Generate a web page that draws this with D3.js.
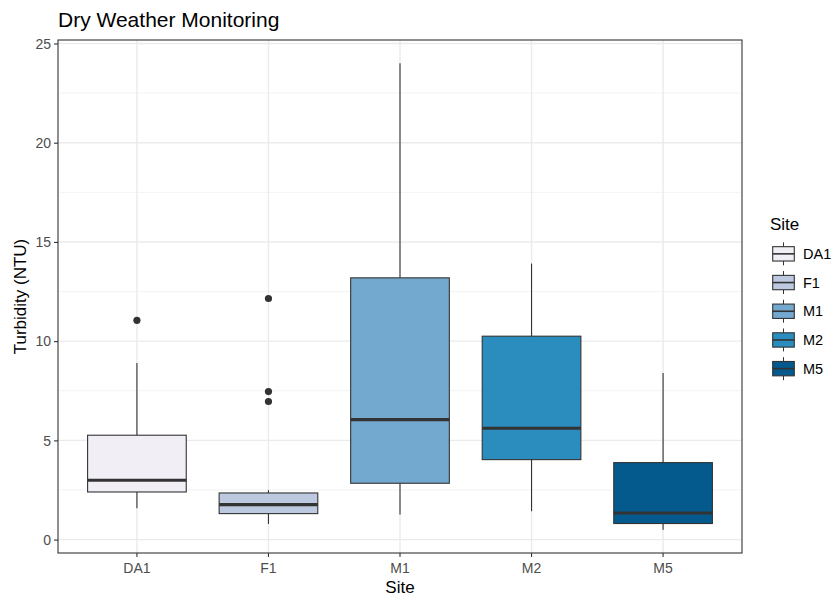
<!DOCTYPE html>
<html>
<head>
<meta charset="utf-8">
<script src="https://cdn.jsdelivr.net/npm/d3@7"></script>
<style>
  body { margin: 0; background: #fff; font-family: 'Liberation Sans', Arial, sans-serif; overflow: hidden; }
  svg { display: block; }
</style>
</head>
<body>
<div id="chart"></div>
<script>
const sites = ['DA1', 'F1', 'M1', 'M2', 'M5'];
const whiskerLow = [1.58, 0.79, 1.26, 1.43, 0.50];
const q1 = [2.40, 1.31, 2.84, 4.03, 0.81];
const medians = [2.99, 1.76, 6.05, 5.61, 1.34];
const q3 = [5.26, 2.35, 13.19, 10.25, 3.88];
const whiskerHigh = [8.90, 2.49, 24.0, 13.91, 8.40];
const outliers = [[11.05], [12.15, 7.46, 6.96], [], [], []];
const fills = ['#F1EEF6', '#BDC9E1', '#74A9CF', '#2B8CBE', '#045A8D'];
const yTicks = [0, 5, 10, 15, 20, 25];

const width = 836;
const height = 597;
const margin = { top: 40, right: 94, bottom: 44, left: 58 };

const svg = d3.select('#chart')
  .append('svg')
  .attr('width', width)
  .attr('height', height)
  .style('font-family', "'Liberation Sans', Arial, sans-serif");

const innerWidth = width - margin.left - margin.right;
const innerHeight = height - margin.top - margin.bottom;

const chart = svg.append('g')
  .attr('transform', `translate(${margin.left}, ${margin.top})`);

// ggplot style 5% expansion
const dataMin = d3.min(whiskerLow);
const dataMax = d3.max(whiskerHigh);
const pad = (dataMax - dataMin) * 0.05;

const y = d3.scaleLinear()
  .domain([dataMin - pad, dataMax + pad])
  .range([innerHeight, 0]);

const x = d3.scaleBand()
  .domain(sites)
  .range([0, innerWidth])
  .paddingOuter(0.1)
  .paddingInner(0);

const color = d3.scaleOrdinal().domain(sites).range(fills);

const cx = d => x(d) + x.bandwidth() / 2;
const boxW = x.bandwidth() * 0.75;

// grid
const minorTicks = d3.range(2.5, 25, 5);
chart.append('g')
  .selectAll('line')
  .data(minorTicks)
  .enter()
  .append('line')
  .attr('x1', 0).attr('x2', innerWidth)
  .attr('y1', d => y(d)).attr('y2', d => y(d))
  .attr('stroke', '#F2F2F2')
  .attr('stroke-width', 0.9);

chart.append('g')
  .selectAll('line')
  .data(yTicks)
  .enter()
  .append('line')
  .attr('x1', 0).attr('x2', innerWidth)
  .attr('y1', d => y(d)).attr('y2', d => y(d))
  .attr('stroke', '#EBEBEB')
  .attr('stroke-width', 1.4);

chart.append('g')
  .selectAll('line')
  .data(sites)
  .enter()
  .append('line')
  .attr('x1', d => cx(d)).attr('x2', d => cx(d))
  .attr('y1', 0).attr('y2', innerHeight)
  .attr('stroke', '#EBEBEB')
  .attr('stroke-width', 1.4);

// boxes
const stats = sites.map((s, i) => ({
  site: s, lo: whiskerLow[i], q1: q1[i], med: medians[i], q3: q3[i], hi: whiskerHigh[i], out: outliers[i]
}));

const boxes = chart.append('g')
  .selectAll('g')
  .data(stats)
  .enter()
  .append('g');

boxes.append('line')
  .attr('x1', d => cx(d.site)).attr('x2', d => cx(d.site))
  .attr('y1', d => y(d.hi)).attr('y2', d => y(d.q3))
  .attr('stroke', '#333333').attr('stroke-width', 1.1);

boxes.append('line')
  .attr('x1', d => cx(d.site)).attr('x2', d => cx(d.site))
  .attr('y1', d => y(d.q1)).attr('y2', d => y(d.lo))
  .attr('stroke', '#333333').attr('stroke-width', 1.1);

boxes.append('rect')
  .attr('x', d => cx(d.site) - boxW / 2)
  .attr('width', boxW)
  .attr('y', d => y(d.q3))
  .attr('height', d => y(d.q1) - y(d.q3))
  .attr('fill', d => color(d.site))
  .attr('stroke', '#333333')
  .attr('stroke-width', 1.1);

boxes.append('line')
  .attr('x1', d => cx(d.site) - boxW / 2).attr('x2', d => cx(d.site) + boxW / 2)
  .attr('y1', d => y(d.med)).attr('y2', d => y(d.med))
  .attr('stroke', '#333333').attr('stroke-width', 3.2);

boxes.selectAll('circle')
  .data(d => d.out.map(v => ({ site: d.site, v })))
  .enter()
  .append('circle')
  .attr('cx', d => cx(d.site))
  .attr('cy', d => y(d.v))
  .attr('r', 3.6)
  .attr('fill', '#333333');

// panel border
chart.append('rect')
  .attr('width', innerWidth)
  .attr('height', innerHeight)
  .attr('fill', 'none')
  .attr('stroke', '#333333')
  .attr('stroke-width', 1.1);

// axes
const yAxis = chart.append('g')
  .call(d3.axisLeft(y).tickValues(yTicks).tickSize(4).tickSizeOuter(0));
const xAxis = chart.append('g')
  .attr('transform', `translate(0, ${innerHeight})`)
  .call(d3.axisBottom(x).tickSize(4).tickSizeOuter(0));

[yAxis, xAxis].forEach(ax => {
  ax.attr('font-family', null).attr('font-size', null);
  ax.select('.domain').remove();
  ax.selectAll('.tick line').attr('stroke', '#333333').attr('stroke-width', 1.1);
  ax.selectAll('.tick text')
    .attr('fill', '#4D4D4D')
    .style('font-size', '14px');
});
yAxis.selectAll('.tick text').attr('x', -7).attr('dy', '0.34em');
xAxis.selectAll('.tick text').attr('y', 9).attr('dy', '0.75em');

// titles
svg.append('text')
  .attr('x', margin.left)
  .attr('y', 27)
  .style('font-size', '21px')
  .attr('fill', '#000')
  .text('Dry Weather Monitoring');

svg.append('text')
  .attr('x', margin.left + innerWidth / 2)
  .attr('y', 593)
  .attr('text-anchor', 'middle')
  .style('font-size', '17px')
  .text('Site');

svg.append('text')
  .attr('transform', 'rotate(-90)')
  .attr('x', -(margin.top + innerHeight / 2))
  .attr('y', 26)
  .attr('text-anchor', 'middle')
  .style('font-size', '17px')
  .text('Turbidity (NTU)');

// legend
const legend = svg.append('g')
  .attr('transform', 'translate(770, 0)');

legend.append('text')
  .attr('x', 0)
  .attr('y', 230)
  .style('font-size', '17px')
  .text('Site');

const keyW = 27;
const keyH = 28.7;
sites.forEach((s, i) => {
  const row = legend.append('g')
    .attr('transform', `translate(0, ${239.5 + i * keyH})`);
  row.append('line')
    .attr('x1', keyW / 2).attr('x2', keyW / 2)
    .attr('y1', keyH * 0.1).attr('y2', keyH * 0.9)
    .attr('stroke', '#333333').attr('stroke-width', 1);
  row.append('rect')
    .attr('x', keyW * 0.1).attr('width', keyW * 0.8)
    .attr('y', keyH * 0.25).attr('height', keyH * 0.5)
    .attr('fill', color(s))
    .attr('stroke', '#333333').attr('stroke-width', 1.1);
  row.append('line')
    .attr('x1', keyW * 0.1).attr('x2', keyW * 0.9)
    .attr('y1', keyH / 2).attr('y2', keyH / 2)
    .attr('stroke', '#333333').attr('stroke-width', 1.6);
  row.append('text')
    .attr('x', 33)
    .attr('y', keyH / 2)
    .attr('dy', '0.35em')
    .style('font-size', '14.5px')
    .attr('fill', '#000')
    .text(s);
});
</script>
</body>
</html>
